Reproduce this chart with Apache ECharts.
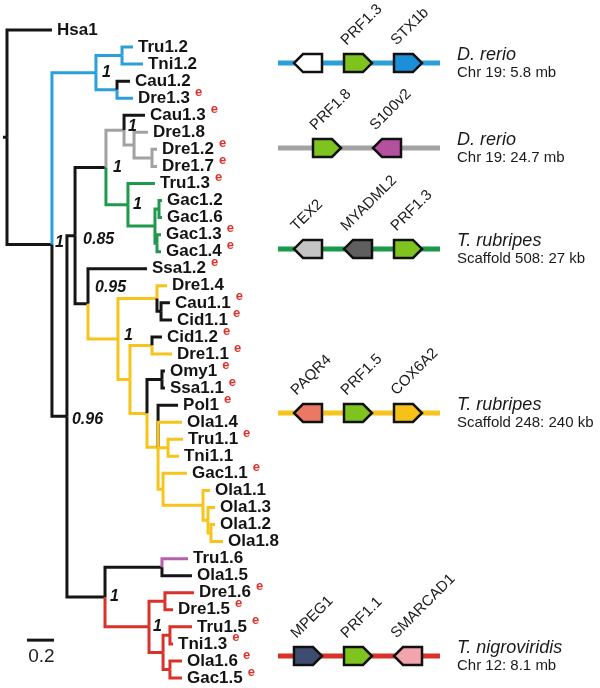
<!DOCTYPE html>
<html><head><meta charset="utf-8">
<script src="https://cdn.jsdelivr.net/npm/echarts@6/dist/echarts.min.js"></script>
<style>html,body{margin:0;padding:0;background:#fff}#c{width:600px;height:688px}</style>
</head><body><div id="c"></div>
<script>
// ---------- DATA ----------
// Tree nodes: [name, parent, depth from root (subst./site), branch colour key]
const treeNodes = [
  ['root', null, 0, 'k'],
  ['Hsa1','root',0.333,'k'],
  ['A','root',0.333,'k'],
  ['K','A',0.659,'b'],
  ['L','K',0.852,'b'],
  ['Tru1.2','L',0.933,'b'],
  ['Tni1.2','L',1.007,'b'],
  ['M','K',0.815,'b'],
  ['Cau1.2','M',0.911,'k'],
  ['Dre1.3','M',0.933,'b'],
  ['B','A',0.444,'k'],
  ['C','B',0.504,'k'],
  ['N','C',0.733,'k'],
  ['O','N',0.867,'g'],
  ['Cau1.3','O',1.022,'k'],
  ['Q','O',0.941,'g'],
  ['Dre1.8','Q',1.044,'g'],
  ['R','Q',1.074,'g'],
  ['Dre1.2','R',1.111,'g'],
  ['Dre1.7','R',1.111,'g'],
  ['P','N',0.896,'G'],
  ['Tru1.3','P',1.096,'G'],
  ['S','P',1.096,'G'],
  ['T','S',1.126,'G'],
  ['Gac1.2','T',1.148,'G'],
  ['Gac1.6','T',1.148,'G'],
  ['U','S',1.111,'G'],
  ['Gac1.3','U',1.141,'G'],
  ['Gac1.4','U',1.141,'G'],
  ['V','C',0.600,'k'],
  ['Ssa1.2','V',1.037,'k'],
  ['W','V',0.822,'y'],
  ['X','W',1.111,'y'],
  ['Dre1.4','X',1.185,'y'],
  ['Y','X',1.141,'k'],
  ['Cau1.1','Y',1.207,'k'],
  ['Cid1.1','Y',1.222,'k'],
  ['Z','W',0.911,'y'],
  ['AA','Z',1.074,'y'],
  ['Cid1.2','AA',1.148,'k'],
  ['Dre1.1','AA',1.222,'y'],
  ['AB','Z',1.037,'y'],
  ['AC','AB',1.148,'k'],
  ['Omy1','AC',1.170,'k'],
  ['Ssa1.1','AC',1.170,'k'],
  ['AD','AB',1.119,'y'],
  ['Pol1','AD',1.267,'k'],
  ['Ola1.4','AD',1.296,'y'],
  ['TT','AD',1.193,'y'],
  ['Tru1.1','TT',1.304,'y'],
  ['Tni1.1','TT',1.274,'y'],
  ['GO','AD',1.156,'y'],
  ['Gac1.1','GO',1.333,'y'],
  ['OL','GO',1.452,'y'],
  ['Ola1.1','OL',1.504,'y'],
  ['OM','OL',1.489,'y'],
  ['Ola1.3','OM',1.541,'y'],
  ['ON','OM',1.511,'y'],
  ['Ola1.2','ON',1.541,'y'],
  ['Ola1.8','ON',1.600,'y'],
  ['D','B',0.726,'k'],
  ['E','D',1.148,'k'],
  ['Tru1.6','E',1.341,'p'],
  ['Ola1.5','E',1.370,'k'],
  ['F','D',1.052,'r'],
  ['G','F',1.170,'r'],
  ['Dre1.6','G',1.385,'r'],
  ['Dre1.5','G',1.230,'r'],
  ['H','F',1.156,'r'],
  ['I','H',1.207,'r'],
  ['Tru1.5','I',1.370,'r'],
  ['Tni1.3','I',1.230,'r'],
  ['J','H',1.207,'r'],
  ['Ola1.6','J',1.296,'r'],
  ['Gac1.5','J',1.296,'r']
];
const rootStem = 0.03;
const expressedLeaves = ['Dre1.3','Cau1.3','Dre1.2','Dre1.7','Tru1.3','Gac1.3','Gac1.4','Ssa1.2',
  'Cau1.1','Cid1.1','Cid1.2','Dre1.1','Omy1','Ssa1.1','Pol1','Tru1.1','Gac1.1',
  'Dre1.6','Dre1.5','Tru1.5','Tni1.3','Ola1.6','Gac1.5'];
const supportNodes  = ['A','K','N','O','P','C','V','W','B','D','F'];
const supportValues = ['1','1','1','1','1','0.85','0.95','1','0.96','1','1'];
const scaleBarLength = 0.2;

// Synteny blocks
const blockSpecies   = ['D. rerio','D. rerio','T. rubripes','T. rubripes','T. nigroviridis'];
const blockLocations = ['Chr 19: 5.8 mb','Chr 19: 24.7 mb','Scaffold 508: 27 kb','Scaffold 248: 240 kb','Chr 12: 8.1 mb'];
const blockRows      = [1.94, 6.92, 12.84, 22.46, 36.71];
const geneNames  = [['','PRF1.3','STX1b'],['PRF1.8','S100v2'],['TEX2','MYADML2','PRF1.3'],['PAQR4','PRF1.5','COX6A2'],['MPEG1','PRF1.1','SMARCAD1']];
const genePos    = [[0,1,2],[0.38,1.58],[0,1,2],[0,1,2],[0,1,2]];
const geneStrand = [[-1,1,1],[1,-1],[-1,-1,1],[-1,1,1],[1,1,-1]];

// ---------- STYLE ----------
const FF = '"Liberation Sans", Arial, Helvetica, sans-serif';
const branchColors = {k:'#151515', b:'#2b9fd9', g:'#a2a2a2', G:'#1f9a4c', y:'#f7c41c', p:'#b560ad', r:'#d8322b'};
const blockColors = ['#2b9fd9','#a2a2a2','#1a994a','#f7c41c','#d8322b'];
const geneFill = [['#ffffff','#7fc31f','#1d8fd9'],['#7fc31f','#b5509f'],['#c4c4c4','#5f5f5f','#7fc31f'],
                  ['#ea7862','#7fc31f','#f6c21a'],['#3e4c70','#7fc31f','#f2a5ad']];
const supportOffsets = {A:[3,-2],K:[6,0],N:[7,0],O:[4,-4],P:[5,0],C:[8,4],V:[7,-16],W:[6,-3],B:[5,3],D:[5,0],F:[4,0]};
const LEAF_FONT = 'bold 17px ' + FF;
const E_FONT = 'bold 13px ' + FF;
const SUP_FONT = 'italic bold 16px ' + FF;

// ---------- LAYOUT (tree) ----------
const nodes = {};
treeNodes.forEach(n => nodes[n[0]] = {name:n[0], parent:n[1], depth:n[2], col:n[3], children:[]});
treeNodes.forEach(n => { if (n[1]) nodes[n[1]].children.push(nodes[n[0]]); });
let leafCount = 0;
const leaves = [];
(function lay(nd){
  if (!nd.children.length) { nd.row = leafCount++; leaves.push(nd); }
  else { nd.children.forEach(lay); nd.row = (nd.children[0].row + nd.children[nd.children.length-1].row)/2; }
})(nodes.root);

const edges = [{x0:-rootStem, x1:0, y0:nodes.root.row, y1:nodes.root.row, color:branchColors.k}];
treeNodes.forEach(n => {
  if (!n[1]) return;
  const c = nodes[n[0]], p = nodes[n[1]];
  edges.push({x0:p.depth, x1:c.depth, y0:p.row, y1:c.row, color:branchColors[c.col]});
});

const mctx = document.createElement('canvas').getContext('2d');
function textW(t, font){ mctx.font = font; return mctx.measureText(t).width; }

const chart = echarts.init(document.getElementById('c'), null, {renderer:'canvas'});
chart.setOption({
  animation:false,
  backgroundColor:'#ffffff',
  grid:[{left:7, top:30, width:270, height:648},{left:258, top:30, width:342, height:648}],
  xAxis:[{type:'value', min:0, max:2, show:false, gridIndex:0},
         {type:'value', min:-1, max:5.84, show:false, gridIndex:1}],
  yAxis:[{type:'value', min:0, max:38, inverse:true, show:false, gridIndex:0},
         {type:'value', min:0, max:38, inverse:true, show:false, gridIndex:1}],
  series:[
    { // branches
      type:'custom', xAxisIndex:0, yAxisIndex:0, clip:false,
      data: edges.map(e => [e.x1, e.y1]),
      renderItem:(params, api) => {
        const e = edges[params.dataIndex];
        const p0 = api.coord([e.x0, e.y0]), p1 = api.coord([e.x1, e.y1]);
        return {type:'polyline', shape:{points:[[p0[0],p0[1]],[p0[0],p1[1]],[p1[0],p1[1]]]},
          style:{stroke:e.color, lineWidth:3, fill:null, lineJoin:'miter', lineCap:'butt'}};
      }
    },
    { // leaf labels
      type:'custom', xAxisIndex:0, yAxisIndex:0, clip:false,
      data: leaves.map(l => [l.depth, l.row]),
      renderItem:(params, api) => {
        const l = leaves[params.dataIndex];
        const p = api.coord([api.value(0), api.value(1)]);
        const tx = p[0] + 5;
        const ch = [{type:'text', x:tx, y:p[1], style:{text:l.name, font:LEAF_FONT, fill:'#141414',
          textAlign:'left', textVerticalAlign:'middle', align:'left', verticalAlign:'middle'}}];
        if (expressedLeaves.indexOf(l.name) >= 0) {
          ch.push({type:'text', x:tx + textW(l.name, LEAF_FONT) + 5, y:p[1]-6, style:{text:'e', font:E_FONT, fill:'#e0302b',
            textAlign:'left', textVerticalAlign:'middle', align:'left', verticalAlign:'middle'}});
        }
        return {type:'group', children:ch};
      }
    },
    { // support values
      type:'custom', xAxisIndex:0, yAxisIndex:0, clip:false,
      data: supportNodes.map(n => [nodes[n].depth, nodes[n].row]),
      renderItem:(params, api) => {
        const n = supportNodes[params.dataIndex];
        const p = api.coord([api.value(0), api.value(1)]);
        const o = supportOffsets[n];
        return {type:'text', x:p[0]+o[0], y:p[1]+o[1], style:{text:supportValues[params.dataIndex], font:SUP_FONT, fill:'#141414',
          textAlign:'left', textVerticalAlign:'middle', align:'left', verticalAlign:'middle'}};
      }
    },
    { // scale bar
      type:'custom', xAxisIndex:0, yAxisIndex:0, clip:false,
      data:[[0.148, 35.78]],
      renderItem:(params, api) => {
        const a = api.coord([api.value(0), api.value(1)]);
        const b = api.coord([api.value(0) + scaleBarLength, api.value(1)]);
        return {type:'group', children:[
          {type:'line', shape:{x1:a[0], y1:a[1], x2:b[0], y2:b[1]}, style:{stroke:'#151515', lineWidth:3}},
          {type:'text', x:(a[0]+b[0])/2 + 1, y:a[1]+17, style:{text:String(scaleBarLength), font:'19px '+FF, fill:'#222',
            textAlign:'center', textVerticalAlign:'middle', align:'center', verticalAlign:'middle'}}
        ]};
      }
    },
    { // synteny blocks
      type:'custom', xAxisIndex:1, yAxisIndex:1, clip:false,
      data: blockRows.map(r => [0, r]),
      renderItem:(params, api) => {
        const i = params.dataIndex;
        const row = api.value(1);
        const a = api.coord([-0.6, row]), b = api.coord([2.64, row]);
        const ch = [{type:'line', shape:{x1:a[0], y1:a[1], x2:b[0], y2:b[1]}, style:{stroke:blockColors[i], lineWidth:5}}];
        genePos[i].forEach((gp, j) => {
          const c = api.coord([gp, row]);
          const hw = 14, hh = 9, tip = 9, s = geneStrand[i][j];
          let pts;
          if (s > 0) pts = [[c[0]-hw,c[1]-hh],[c[0]+hw-tip,c[1]-hh],[c[0]+hw,c[1]],[c[0]+hw-tip,c[1]+hh],[c[0]-hw,c[1]+hh]];
          else pts = [[c[0]+hw,c[1]-hh],[c[0]-hw+tip,c[1]-hh],[c[0]-hw,c[1]],[c[0]-hw+tip,c[1]+hh],[c[0]+hw,c[1]+hh]];
          ch.push({type:'polygon', shape:{points:pts}, style:{fill:geneFill[i][j], stroke:'#111', lineWidth:2.5, lineJoin:'miter'}});
          if (geneNames[i][j]) {
            ch.push({type:'text', x:c[0]-hw+5, y:c[1]-hh-6, rotation:Math.PI/4,
              style:{text:geneNames[i][j], font:'15px '+FF, fill:'#1a1a1a',
                textAlign:'left', textVerticalAlign:'bottom', align:'left', verticalAlign:'bottom'}});
          }
        });
        const t = api.coord([2.98, row]);
        ch.push({type:'text', x:t[0], y:t[1]-8, style:{text:blockSpecies[i], font:'italic 18px '+FF, fill:'#1a1a1a',
          textAlign:'left', textVerticalAlign:'middle', align:'left', verticalAlign:'middle'}});
        ch.push({type:'text', x:t[0], y:t[1]+10, style:{text:blockLocations[i], font:'15px '+FF, fill:'#1a1a1a',
          textAlign:'left', textVerticalAlign:'middle', align:'left', verticalAlign:'middle'}});
        return {type:'group', children:ch};
      }
    }
  ]
});
</script>
</body></html>
